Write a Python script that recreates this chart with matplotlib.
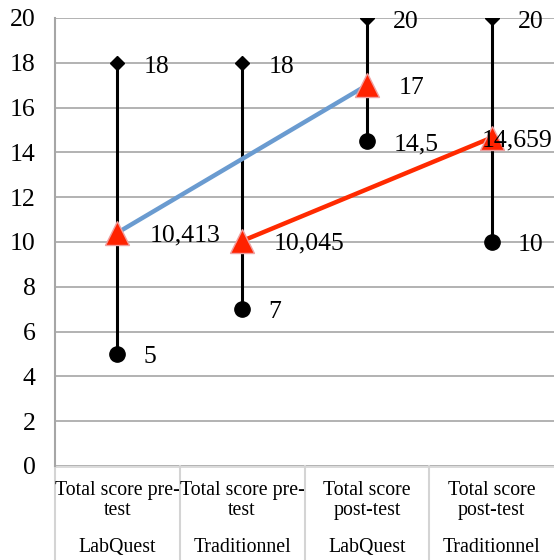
import matplotlib.pyplot as plt
import matplotlib.transforms as mtransforms

# data
line_a = ["Total score pre-", "Total score pre-", "Total score", "Total score"]
line_b = ["test", "test", "post-test", "post-test"]
groups = ["LabQuest", "Traditionnel", "LabQuest", "Traditionnel"]
max_vals = [18, 18, 20, 20]
min_vals = [5, 7, 14.5, 10]
mean_vals = [10.413, 10.045, 17, 14.659]

# label offsets for the mean values (points)
mean_dx = [23, 23, 23, -7]

def fmt(v):
    return ("%g" % v).replace(".", ",")

plt.rcParams["font.family"] = ["Liberation Serif", "DejaVu Serif"]

fig = plt.figure(figsize=(5.54, 5.60), dpi=100)
ax = fig.add_axes([55 / 554, 94 / 560, 499 / 554, 448 / 560])

x = [1, 2, 3, 4]
gridColour = "#a6a6a6"
lightColour = "#d4d4d4"
fs = 18.5

ax.set_xlim(0.5, 4.5)
ax.set_ylim(0, 20)
ax.set_yticks(range(0, 21, 2))
ax.set_xticks([])
ax.tick_params(axis="y", length=0, labelsize=fs, pad=14)
ax.grid(axis="y", color=gridColour, linewidth=1.2)
ax.set_axisbelow(True)
for s in ["top", "right", "bottom"]:
    ax.spines[s].set_visible(False)
ax.spines["left"].set_color(gridColour)
ax.spines["left"].set_linewidth(1.5)

# min-max lines with markers
for i in range(4):
    ax.plot([x[i], x[i]], [min_vals[i], max_vals[i]], color="black", linewidth=2.2, zorder=3)
    ax.plot(x[i], max_vals[i], marker="D", markersize=7, color="black", zorder=4)
    ax.plot(x[i], min_vals[i], marker="o", markersize=11, color="black", zorder=4, clip_on=False)

# mean connecting lines
ax.plot([x[0], x[2]], [mean_vals[0], mean_vals[2]], color="#6a9bd0", linewidth=3.2, zorder=5)
ax.plot([x[1], x[3]], [mean_vals[1], mean_vals[3]], color="#ff2a00", linewidth=3.2, zorder=5)
ax.plot(x, mean_vals, linestyle="none", marker="^", markersize=17,
        markerfacecolor="#ff2200", markeredgecolor="#f0a0a0", markeredgewidth=1, zorder=6)

# value labels
for i in range(4):
    ax.annotate(fmt(max_vals[i]), (x[i], max_vals[i]), xytext=(19, -3), textcoords="offset points",
                ha="left", va="center", fontsize=fs, annotation_clip=False)
    ax.annotate(fmt(min_vals[i]), (x[i], min_vals[i]), xytext=(19, -2), textcoords="offset points",
                ha="left", va="center", fontsize=fs)
    ax.annotate(fmt(mean_vals[i]), (x[i], mean_vals[i]), xytext=(mean_dx[i], -2), textcoords="offset points",
                ha="left", va="center", fontsize=fs, zorder=7)

# category labels and separators below the axis
trans = mtransforms.blended_transform_factory(ax.transData, ax.transAxes)
for b in [0.5, 1.5, 2.5, 3.5]:
    ax.plot([b, b], [0, -0.3], color=lightColour, linewidth=1.5, transform=trans, clip_on=False)
ax.plot([0.5, 4.5], [-0.003, -0.003], color=lightColour, linewidth=1.2, transform=trans, clip_on=False)
for i in range(4):
    ax.text(x[i], -0.0536, line_a[i], transform=trans, ha="center", va="center", fontsize=14.3)
    ax.text(x[i], -0.1, line_b[i], transform=trans, ha="center", va="center", fontsize=14.3)
    ax.text(x[i], -0.183, groups[i], transform=trans, ha="center", va="center", fontsize=14.3)

plt.savefig("out.png", dpi=100)
